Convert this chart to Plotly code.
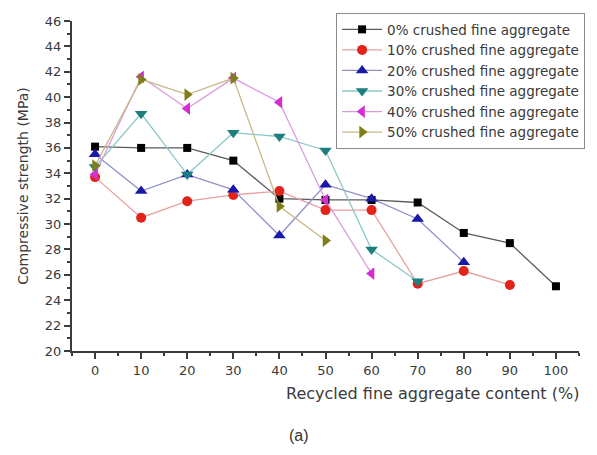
import plotly.graph_objects as go

# Recycled fine aggregate content (%)
content = [0, 10, 20, 30, 40, 50, 60, 70, 80, 90, 100]

# Compressive strength (MPa) for each crushed fine aggregate level
s0 = [36.1, 36.0, 36.0, 35.0, 32.0, 31.9, 31.9, 31.7, 29.3, 28.5, 25.1]
s10 = [33.7, 30.5, 31.8, 32.3, 32.6, 31.1, 31.1, 25.3, 26.3, 25.2]
s20 = [35.5, 32.6, 33.9, 32.7, 29.1, 33.1, 32.0, 30.4, 27.0]
s30 = [34.5, 38.7, 33.9, 37.2, 36.9, 35.8, 28.0, 25.5]
s40 = [33.9, 41.6, 39.1, 41.5, 39.6, 31.9, 26.1]
s50 = [34.6, 41.4, 40.2, 41.5, 31.4, 28.7]

series_names = [
    "0% crushed fine aggregate",
    "10% crushed fine aggregate",
    "20% crushed fine aggregate",
    "30% crushed fine aggregate",
    "40% crushed fine aggregate",
    "50% crushed fine aggregate",
]
series_values = [s0, s10, s20, s30, s40, s50]

marker_colors = ["#000000", "#e2231a", "#1a1aa8", "#1f7f7f", "#d22fd2", "#7f7f1a"]
line_colors = ["#5a5a5a", "#e8a0a0", "#9090c8", "#8cc8c8", "#dc9cdc", "#c8b888"]
symbols = ["square", "circle", "triangle-up", "triangle-down", "triangle-left", "triangle-right"]
sizes = [8, 10, 11, 11, 11, 11]

FONT = "DejaVu Sans, Verdana, sans-serif"
TEXT = "#3a3a3a"

fig = go.Figure()
for name, vals, mc, lc, sym, sz in zip(series_names, series_values, marker_colors,
                                       line_colors, symbols, sizes):
    fig.add_trace(go.Scatter(
        x=content[:len(vals)], y=vals, name=name, mode="lines+markers",
        line=dict(color=lc, width=1.3),
        marker=dict(symbol=sym, size=sz, color=mc, line=dict(width=0)),
    ))

axis_common = dict(
    showline=True, linecolor="#3c3c3c", linewidth=2, mirror=False,
    showgrid=False, zeroline=False, ticks="outside", ticklen=6,
    tickwidth=2, tickcolor="#3c3c3c",
    tickfont=dict(family=FONT, size=13, color=TEXT),
)

fig.update_xaxes(
    range=[-5, 105], tickvals=content, ticktext=[str(v) for v in content],
    minor=dict(ticks="outside", ticklen=3, tickwidth=2, tickcolor="#3c3c3c", dtick=5, tick0=5),
    **axis_common,
)
fig.update_yaxes(
    range=[20, 46], dtick=2, tick0=20,
    minor=dict(ticks="outside", ticklen=3, tickwidth=2, tickcolor="#3c3c3c", dtick=1),
    title=dict(text="Compressive strength (MPa)",
               font=dict(family=FONT, size=14, color=TEXT), standoff=13),
    **axis_common,
)

fig.add_annotation(
    text="Recycled fine aggregate content (%)", xref="paper", yref="paper",
    x=1.004, y=-0.095, xanchor="right", yanchor="top", showarrow=False,
    font=dict(family=FONT, size=16, color=TEXT),
)
fig.add_annotation(
    text="(a)", xref="paper", yref="paper",
    x=0.447, y=-0.225, xanchor="center", yanchor="top", showarrow=False,
    font=dict(family="Liberation Sans, Arial, sans-serif", size=16, color="#333333"),
)

fig.update_layout(
    width=597, height=455,
    margin=dict(l=72, r=14, t=21, b=104),
    paper_bgcolor="white", plot_bgcolor="white",
    showlegend=True,
    legend=dict(
        x=1.012, y=1.024, xanchor="right", yanchor="top",
        bordercolor="#8a8a8a", borderwidth=1, bgcolor="white",
        font=dict(family=FONT, size=13.5, color=TEXT),
        tracegroupgap=0, itemwidth=40,
    ),
)

fig.write_html("out.html")
